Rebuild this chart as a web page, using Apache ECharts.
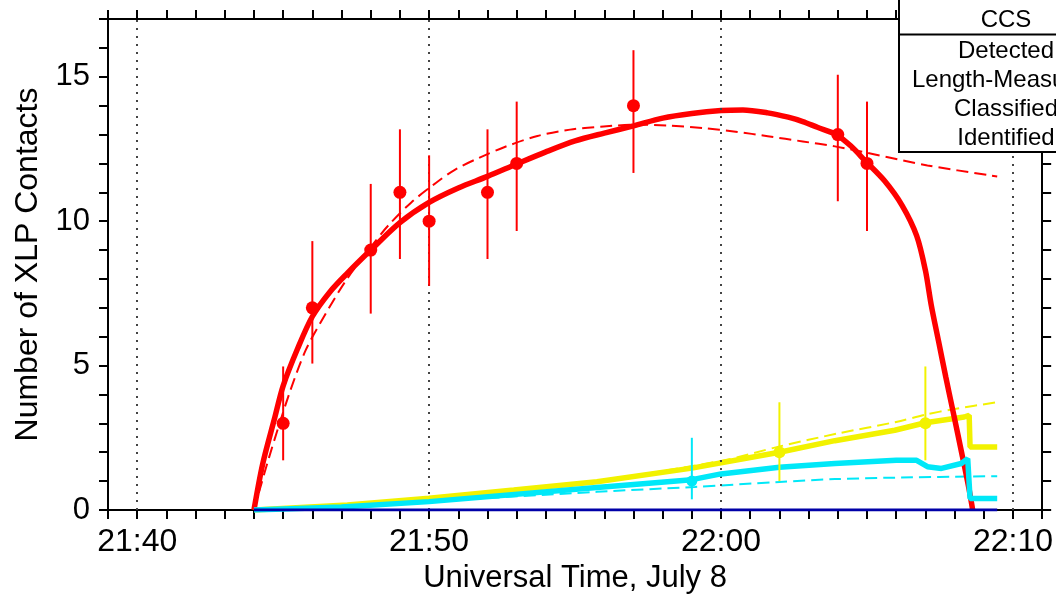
<!DOCTYPE html>
<html>
<head>
<meta charset="utf-8">
<script src="https://cdn.jsdelivr.net/npm/echarts@6/dist/echarts.min.js"></script>
<style>html,body{margin:0;padding:0;background:#fff}#c{width:1056px;height:600px}</style>
</head>
<body>
<div id="c"></div>
<script>
// x values are minutes after 21:00 UT, July 8
const X_MIN = 39, X_MAX = 71;
const Y_MIN = 0, Y_MAX = 17;
const X_GRID = [40, 50, 60, 70];
const LEGEND_TITLE = 'CCS';
const LEGEND_ROWS = ['Detected', 'Length-Measured', 'Classified', 'Identified'];

// Detected contacts (red) with error bar ends
const DET_T  = [45, 46, 48, 49, 50, 52, 53, 57, 64, 65];
const DET_N  = [3, 7, 9, 11, 10, 11, 12, 14, 13, 12];
const DET_LO = [1.72, 5.07, 6.8, 8.69, 7.76, 8.69, 9.66, 11.67, 10.69, 9.66];
const DET_HI = [4.97, 9.31, 11.29, 13.18, 12.28, 13.18, 14.14, 15.92, 15.07, 14.14];
// Length-measured (yellow)
const LEN_T  = [62, 67];
const LEN_N  = [2, 3];
const LEN_LO = [1.0, 1.72];
const LEN_HI = [3.73, 4.97];
// Classified (cyan)
const CLS_T  = [59];
const CLS_N  = [1];
const CLS_LO = [0.37];
const CLS_HI = [2.5];

// Model curves: [minute, count]
const DET_FIT = [[44.0,0],[44.3,1.6],[44.7,3.15],[45.0,4.3],[45.5,5.6],[46.0,6.7],[46.6,7.55],[47.2,8.2],[48,9.0],[49,9.95],[50,10.65],[51,11.15],[52,11.55],[53,11.98],[54,12.4],[55,12.78],[56,13.05],[57,13.3],[58,13.57],[59,13.73],[60,13.83],[60.75,13.85],[61.6,13.75],[62.3,13.6],[62.8,13.45],[63.3,13.25],[63.95,13.0],[64.45,12.6],[64.93,12.1],[65.6,11.4],[66.2,10.55],[66.7,9.5],[67.0,8.3],[67.2,7.1],[67.45,5.85],[67.7,4.6],[67.95,3.4],[68.27,1.85],[68.5,0.7],[68.62,0]];
const DET_DASH = [[44.0,0],[44.52,1.83],[45.2,4.0],[45.78,5.55],[46.46,6.8],[47.14,7.93],[48.0,9.1],[48.6,9.85],[49.39,10.65],[50.2,11.3],[50.88,11.78],[51.77,12.22],[52.59,12.57],[53.71,12.95],[54.83,13.17],[55.98,13.28],[57.1,13.34],[58.2,13.31],[59.39,13.22],[60.5,13.1],[61.6,12.94],[62.8,12.76],[63.9,12.59],[65.27,12.31],[67.07,11.93],[69.46,11.55]];
const LEN_FIT = [[44,0],[47.2,0.17],[50,0.41],[52.9,0.69],[55.75,0.98],[59,1.45],[62,2.0],[63.9,2.4],[65.95,2.76],[67.0,3.02],[68.33,3.22],[68.5,3.28],[68.53,2.18],[69.46,2.18]];
const LEN_DASH = [[44,0],[50,0.4],[56,1.05],[60,1.7],[62,2.2],[64,2.65],[66,3.05],[67,3.3],[68,3.5],[69.46,3.73]];
const CLS_FIT = [[44,0],[47,0.1],[50,0.29],[55.75,0.78],[59,1.05],[60,1.25],[62,1.48],[63.9,1.61],[66,1.72],[66.7,1.72],[67.07,1.5],[67.55,1.44],[68.23,1.61],[68.45,1.78],[68.53,0.4],[69.46,0.4]];
const CLS_DASH = [[44,0],[50,0.3],[55.75,0.63],[59.1,0.8],[62,0.97],[63.9,1.07],[65.95,1.12],[69.46,1.17]];
const IDN_FIT = [[44,0],[69.46,0]];

const RED = '#ff0000', YEL = '#f2f200', CYAN = '#00e8f8', BLUE = '#0000a8';
const FONT = '"Liberation Sans", Arial, sans-serif';

function fmtTime(v) {
  if (v % 10 !== 0) return '';
  const h = 21 + Math.floor(v / 60), m = v % 60;
  return h + ':' + (m < 10 ? '0' + m : m);
}
function errBars(T, LO, HI, color) {
  return {
    type: 'custom', z: 6, silent: true,
    data: T.map((t, i) => [t, LO[i], HI[i]]),
    renderItem: function (params, api) {
      const a = api.coord([api.value(0), api.value(1)]);
      const b = api.coord([api.value(0), api.value(2)]);
      return { type: 'line', shape: { x1: a[0], y1: a[1], x2: b[0], y2: b[1] }, style: { stroke: color, lineWidth: 2 } };
    }
  };
}
function pts(T, N, color, size) {
  return { type: 'scatter', z: 7, symbol: 'circle', symbolSize: size, itemStyle: { color: color, opacity: 1 }, data: T.map((t, i) => [t, N[i]]), silent: true };
}
function curve(data, color, width, dashed, z, smooth) {
  return {
    type: 'line', data: data, showSymbol: false, symbol: 'none', z: z, silent: true,
    smooth: smooth || false,
    lineStyle: { color: color, width: width, type: dashed ? [12, 6] : 'solid' }
  };
}

const chart = echarts.init(document.getElementById('c'), null, { renderer: 'canvas' });
const xCommon = { type: 'value', min: X_MIN, max: X_MAX, interval: 1,
  axisLine: { show: true, onZero: false, lineStyle: { color: '#000', width: 2 } },
  axisTick: { show: true, inside: false, length: 9, lineStyle: { color: '#000', width: 2 } },
  splitLine: { show: false } };
const yCommon = { type: 'value', min: Y_MIN, max: Y_MAX, interval: 1,
  axisLine: { show: true, onZero: false, lineStyle: { color: '#000', width: 2 } },
  axisTick: { show: true, inside: false, length: 9, lineStyle: { color: '#000', width: 2 } },
  splitLine: { show: false } };

const legendGraphic = [
  { type: 'rect', z: 100, shape: { x: 899, y: -10, width: 300, height: 162 }, style: { fill: '#fff', stroke: '#000', lineWidth: 2 } },
  { type: 'line', z: 101, shape: { x1: 899, y1: 34.5, x2: 1200, y2: 34.5 }, style: { stroke: '#000', lineWidth: 2 } },
  { type: 'text', z: 102, x: 1006, y: 20, style: { text: LEGEND_TITLE, font: '24px ' + FONT, fill: '#000', align: 'center', verticalAlign: 'middle' } }
].concat(LEGEND_ROWS.map((r, i) => ({
  type: 'text', z: 102, x: 1006, y: 51.5 + i * 29, style: { text: r, font: '24px ' + FONT, fill: '#000', align: 'center', verticalAlign: 'middle' }
})));

chart.setOption({
  animation: false,
  backgroundColor: '#fff',
  textStyle: { fontFamily: FONT },
  grid: { left: 108, right: 9, top: 19, bottom: 90, containLabel: false },
  xAxis: [
    Object.assign({}, xCommon, { position: 'bottom', name: 'Universal Time, July 8', nameLocation: 'middle', nameGap: 51,
      nameTextStyle: { fontSize: 31, color: '#000', fontFamily: FONT },
      axisLabel: { show: true, formatter: fmtTime, fontSize: 32, color: '#000', margin: 16, fontFamily: FONT, showMinLabel: true, showMaxLabel: true, hideOverlap: false } }),
    Object.assign({}, xCommon, { position: 'top', axisLabel: { show: false } })
  ],
  yAxis: [
    Object.assign({}, yCommon, { position: 'left', name: 'Number of XLP Contacts', nameLocation: 'middle', nameGap: 62,
      nameTextStyle: { fontSize: 32, color: '#000', fontFamily: FONT },
      axisLabel: { show: true, formatter: v => (v % 5 === 0 ? String(v) : ''), fontSize: 31, color: '#000', margin: 18, fontFamily: FONT } }),
    Object.assign({}, yCommon, { position: 'right', axisLabel: { show: false } })
  ],
  graphic: legendGraphic,
  series: [
    { type: 'line', data: [], z: 1, silent: true,
      markLine: { silent: true, symbol: ['none', 'none'], label: { show: false },
        lineStyle: { color: '#444', width: 2, type: [2, 6] },
        data: X_GRID.map(v => ({ xAxis: v })) } },
    curve(DET_DASH, RED, 2, true, 2, 0.3),
    curve(LEN_DASH, YEL, 2, true, 2, 0.3),
    curve(CLS_DASH, CYAN, 2, true, 2, 0.3),
    curve(LEN_FIT, YEL, 5.5, false, 3, false),
    curve(DET_FIT, RED, 5.5, false, 4, 0.3),
    curve(CLS_FIT, CYAN, 5.5, false, 5, false),
    curve(IDN_FIT, BLUE, 3, false, 5, false),
    errBars(DET_T, DET_LO, DET_HI, RED),
    errBars(LEN_T, LEN_LO, LEN_HI, YEL),
    errBars(CLS_T, CLS_LO, CLS_HI, CYAN),
    pts(DET_T, DET_N, RED, 13),
    pts(LEN_T, LEN_N, YEL, 12),
    pts(CLS_T, CLS_N, CYAN, 11)
  ]
});
</script>
</body>
</html>
